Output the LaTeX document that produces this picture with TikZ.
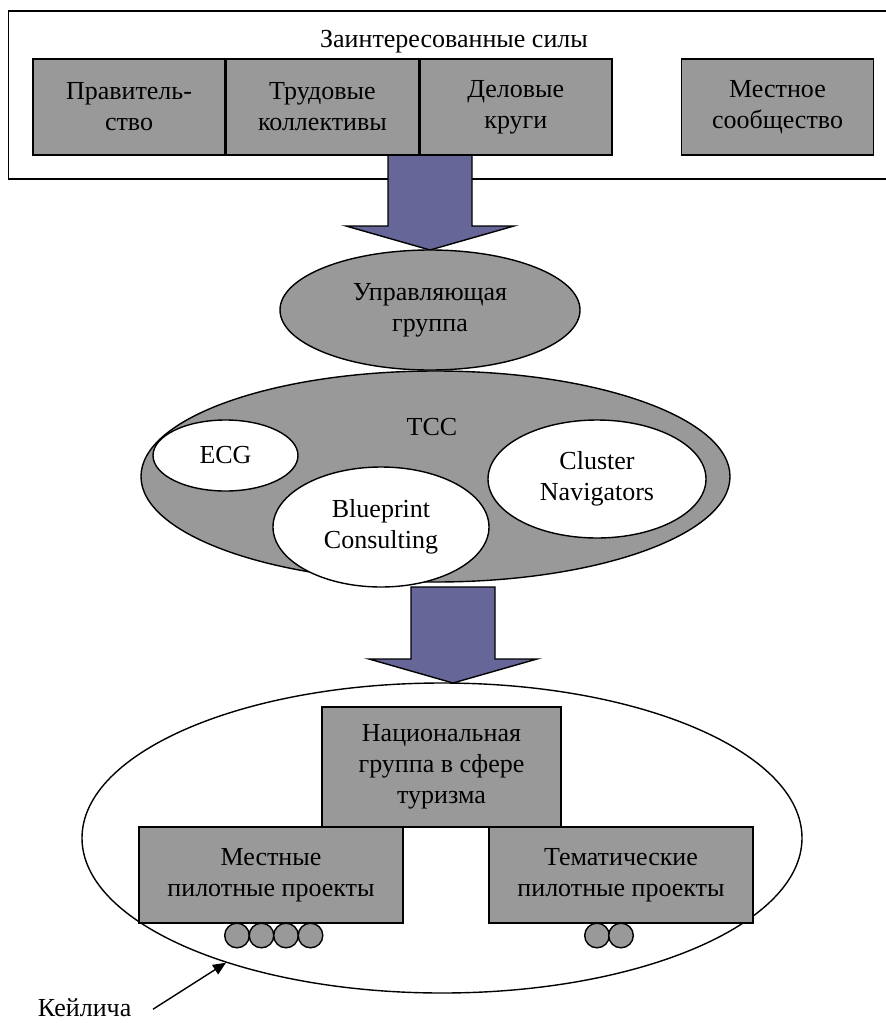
\documentclass[tikz,border=0pt]{standalone}
\usepackage{fontspec}
\setmainfont{Liberation Serif}
\usepackage{tikz}
\usetikzlibrary{positioning}
\usetikzlibrary{arrows.meta}
\usetikzlibrary{shapes.geometric}

\definecolor{boxgrey}{RGB}{153,153,153}
\definecolor{arrowblue}{RGB}{102,102,153}

% block arrow, drawn upwards from its tip
\newcommand{\bigarrow}[1]{\draw[block arrow] (#1) -- ++(84,-24) -- ++(-42,0)
	-- ++(0,-72) -- ++(-84,0) -- ++(0,72) -- ++(-42,0) -- cycle;}

\begin{document}
\begin{tikzpicture}[x=0.5pt,y=-0.5pt,line width=0.7pt,
	font=\fontsize{13}{15.5}\selectfont,
	grey box/.style={rectangle,draw,fill=boxgrey,align=center,inner sep=0pt,
		minimum width=96pt,minimum height=48pt},
	grey oval/.style={ellipse,draw,fill=boxgrey,align=center,inner sep=0pt},
	white oval/.style={ellipse,draw,fill=white,align=center,inner sep=0pt},
	pellet/.style={circle,draw,fill=boxgrey,inner sep=0pt,minimum size=12.3pt},
	block arrow/.style={draw,fill=arrowblue,line join=miter}]
	
	\useasboundingbox (0,0) rectangle (885,1023);
	
	\node[draw,inner sep=0pt,minimum width=443.25pt,minimum height=84pt] (forces) at (451.75,95) {};
	\node (title) at (454,42) {Заинтересованные силы};
	
	\bigarrow{430,250}
	
	\node[grey box] (gov) at (129,107) {Правитель-\\ство};
	\node[grey box, right=0pt of gov] (labour) {Трудовые\\коллективы};
	\node[grey box, right=0pt of labour] (business) {Деловые\\круги};
	\node[grey box] (community) at (777.5,107) {Местное\\сообщество};
	
	\node[grey oval, minimum width=150pt, minimum height=60pt] (steering) at (430,310) {Управляющая\\группа};
	
	\node[grey oval, minimum width=294.5pt, minimum height=105.5pt] (tcc) at (435.5,476.5) {};
	\node (tcclabel) at (432,427) {TCC};
	\node[white oval, minimum width=72.5pt, minimum height=35.5pt] (ecg) at (225.5,455.5) {ECG};
	\node[white oval, minimum width=109pt, minimum height=59pt] (navigators) at (597,479) {Cluster\\Navigators};
	\node[white oval, minimum width=108pt, minimum height=60pt] (blueprint) at (381,527) {Blueprint\\Consulting};
	
	\node[ellipse, draw, inner sep=0pt, minimum width=360pt, minimum height=155pt] (cluster) at (442,838) {};
	\bigarrow{453,683}
	
	\node[grey box, minimum width=119.5pt, minimum height=60pt] (national) at (441.5,767) {Национальная\\группа в сфере\\туризма};
	\node[grey box, minimum width=132pt] (localpilots) at (271,875) {Местные\\пилотные проекты};
	\node[grey box, minimum width=132pt] (themepilots) at (621,875) {Тематические\\пилотные проекты};
	
	\foreach \i/\x in {1/237,2/261.5,3/286,4/310.5}
	\node[pellet] (lp\i) at (\x,935.5) {};
	\foreach \i/\x in {1/597,2/621}
	\node[pellet] (tp\i) at (\x,935.5) {};
	
	\node[anchor=base east, inner sep=0pt] (kaylich) at (132,1016) {Кейлича};
	\draw[-{Triangle[length=6.5pt,width=5.5pt]}] ([xshift=10.5pt,yshift=-1pt]kaylich.east) -- (cluster.210);
\end{tikzpicture}
\end{document}
